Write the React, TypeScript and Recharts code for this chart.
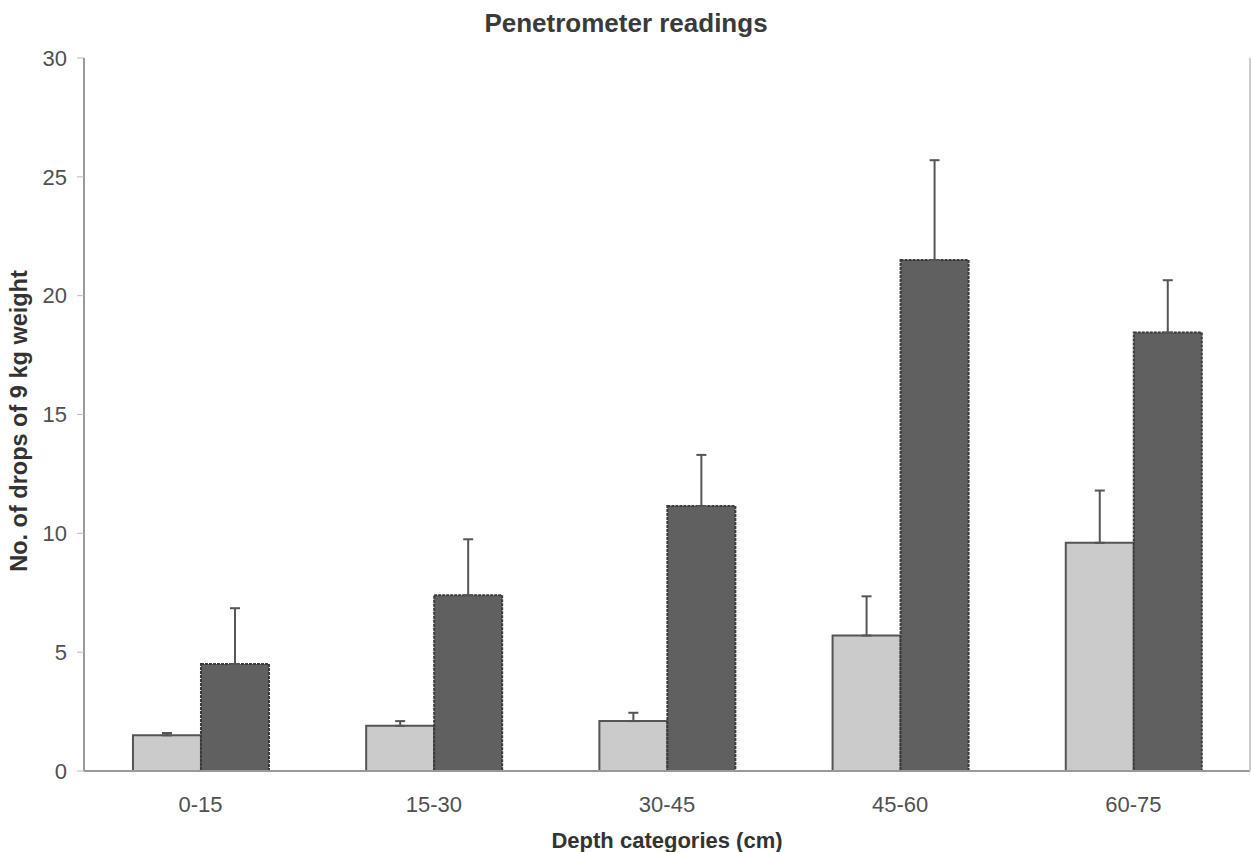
import { BarChart, Bar, XAxis, YAxis, ErrorBar, Label } from 'recharts';

const depths = ['0-15', '15-30', '30-45', '45-60', '60-75'];
const lightValues = [1.5, 1.9, 2.1, 5.7, 9.6];
const lightErrors = [0.1, 0.2, 0.35, 1.65, 2.2];
const darkValues = [4.5, 7.4, 11.15, 21.5, 18.45];
const darkErrors = [2.35, 2.35, 2.15, 4.2, 2.2];
const yTicks = [0, 5, 10, 15, 20, 25, 30];

const data = depths.map((d, i) => ({
  depth: d,
  light: lightValues[i],
  lightErr: [0, lightErrors[i]],
  dark: darkValues[i],
  darkErr: [0, darkErrors[i]],
}));

const textColor = '#505050';
const font = '"Liberation Sans", Arial, sans-serif';

export default function App() {
  return (
    <div style={{ position: 'absolute', left: 0, top: 0, width: 1251, height: 852, background: '#fff', fontFamily: font }}>
      <div
        style={{
          position: 'absolute', top: 8, left: 0, width: 1252, textAlign: 'center',
          fontSize: 26, fontWeight: 'bold', color: '#3a3a3a', lineHeight: '30px',
        }}
      >
        Penetrometer readings
      </div>
      <BarChart
        width={1251}
        height={852}
        data={data}
        margin={{ top: 58, right: 0, bottom: 0, left: 0 }}
        barGap={0}
        barCategoryGap="21%"
      >
        <XAxis
          xAxisId="bounds"
          type="number"
          domain={[0, 5]}
          ticks={[1, 2, 3, 4]}
          height={0}
          axisLine={false}
          tickSize={5}
          tickLine={{ stroke: '#bbb' }}
          tickFormatter={() => ''}
        />
        <XAxis
          dataKey="depth"
          height={81}
          tickLine={false}
          axisLine={{ stroke: '#999', strokeWidth: 2 }}
          tickMargin={19}
          tick={{ fill: textColor, fontSize: 22, fontFamily: font }}
        >
          <Label
            value="Depth categories (cm)"
            position="insideBottom"
            offset={4}
            style={{ fill: '#333', fontSize: 22, fontWeight: 'bold', fontFamily: font }}
          />
        </XAxis>
        <XAxis
          xAxisId="top"
          orientation="top"
          height={0}
          tick={false}
          tickLine={false}
          axisLine={{ stroke: '#bbb', strokeWidth: 2 }}
        />
        <YAxis
          width={84}
          domain={[0, 30]}
          ticks={yTicks}
          interval={0}
          tickSize={7}
          tickMargin={10}
          tickLine={{ stroke: '#bbb' }}
          axisLine={{ stroke: '#999', strokeWidth: 2 }}
          tick={{ fill: textColor, fontSize: 22, fontFamily: font }}
        >
          <Label
            content={({ viewBox }: any) => (
              <text
                x={19}
                y={421}
                transform="rotate(-90, 19, 421)"
                textAnchor="middle"
                dominantBaseline="central"
                fill="#333"
                fontSize={23.5}
                fontWeight="bold"
                fontFamily={font}
              >
                No. of drops of 9 kg weight
              </text>
            )}
          />
        </YAxis>
        <YAxis
          yAxisId="right"
          orientation="right"
          width={1}
          tick={false}
          tickLine={false}
          axisLine={{ stroke: '#ccc', strokeWidth: 2 }}
        />
        <Bar dataKey="light" fill="#cbcbcb" stroke="#555" strokeWidth={2} isAnimationActive={false}>
          <ErrorBar dataKey="lightErr" width={5} stroke="#555" strokeWidth={2} direction="y" />
        </Bar>
        <Bar dataKey="dark" fill="#606060" stroke="#3a3a3a" strokeWidth={2} strokeDasharray="3 1" isAnimationActive={false}>
          <ErrorBar dataKey="darkErr" width={5} stroke="#555" strokeWidth={2} direction="y" />
        </Bar>
      </BarChart>
    </div>
  );
}
